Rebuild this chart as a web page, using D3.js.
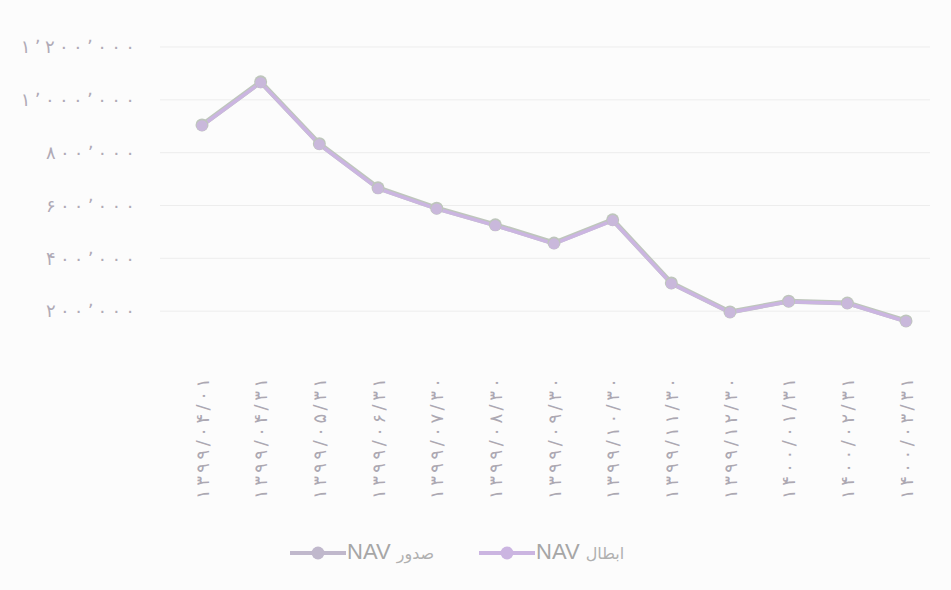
<!DOCTYPE html>
<html><head><meta charset="utf-8">
<script src="https://cdn.jsdelivr.net/npm/d3@7"></script>
<style>
html,body{margin:0;padding:0;background:#fcfcfc;}
svg{display:block;}
text{font-family:"DejaVu Sans","Noto Sans",sans-serif;}
</style></head>
<body>
<svg id="c" width="951" height="590"></svg>
<script>
const categories = ["۱۳۹۹/۰۴/۰۱","۱۳۹۹/۰۴/۳۱","۱۳۹۹/۰۵/۳۱","۱۳۹۹/۰۶/۳۱","۱۳۹۹/۰۷/۳۰","۱۳۹۹/۰۸/۳۰","۱۳۹۹/۰۹/۳۰","۱۳۹۹/۱۰/۳۰","۱۳۹۹/۱۱/۳۰","۱۳۹۹/۱۲/۳۰","۱۴۰۰/۰۱/۳۱","۱۴۰۰/۰۲/۳۱","۱۴۰۰/۰۳/۳۱"];
const navIssue      = [905000,1068000,834000,667000,590000,527000,458000,546000,307000,197000,238000,231000,163000];
const navRedemption = [902000,1065000,831000,664000,587000,524000,455000,543000,304000,195000,236000,229000,161000];
const yTicks = [200000,400000,600000,800000,1000000,1200000];
const yTickLabels = ["۲۰۰٬۰۰۰","۴۰۰٬۰۰۰","۶۰۰٬۰۰۰","۸۰۰٬۰۰۰","۱٬۰۰۰٬۰۰۰","۱٬۲۰۰٬۰۰۰"];
const seriesNames = ["صدور","ابطال"];
const seriesPrefix = "NAV";

const svg = d3.select("#c");
const x = d3.scalePoint().domain(categories).range([202,906]);
const y = d3.scaleLinear().domain([0,1200000]).range([364,47]);

// gridlines
svg.append("g").selectAll("line").data(yTicks).join("line")
  .attr("x1",160).attr("x2",930)
  .attr("y1",d=>y(d)).attr("y2",d=>y(d))
  .attr("stroke","#ededed").attr("stroke-width",1);

// y axis labels
const yAxis = d3.axisLeft(y).tickValues(yTicks).tickSize(0)
  .tickFormat((d,i)=>yTickLabels[i]);
const gy = svg.append("g").attr("transform","translate(138,0)").call(yAxis);
gy.select(".domain").remove();
gy.selectAll("text").attr("fill","#b0aab6").attr("font-size",18)
  .attr("textLength",(d,i)=>yTickLabels[i].length*12.7)
  .attr("lengthAdjust","spacing").attr("dx",0);

// x axis labels
const xAxis = d3.axisBottom(x).tickSize(0);
const gx = svg.append("g").attr("transform","translate(0,378)").call(xAxis);
gx.select(".domain").remove();
gx.selectAll("text").attr("fill","#aca8b2").attr("font-size",18)
  .attr("textLength",121).attr("lengthAdjust","spacing")
  .attr("transform","rotate(-90)").attr("text-anchor","end")
  .attr("x",0).attr("y",0).attr("dy","0.35em").attr("dx","0");

const colors = ["#bec6bc","#cbb5e1"];
const line = d3.line().x((d,i)=>x(categories[i])).y(d=>y(d));
[navIssue,navRedemption].forEach((s,k)=>{
  svg.append("path").datum(s).attr("d",line).attr("fill","none")
    .attr("stroke",colors[k]).attr("stroke-width",k===0?5:3.5)
    .attr("stroke-linejoin","round");
});
[navIssue,navRedemption].forEach((s,k)=>{
  svg.append("g").selectAll("circle").data(s).join("circle")
    .attr("cx",(d,i)=>x(categories[i])).attr("cy",d=>y(d))
    .attr("r",k===0?6.5:5.5).attr("fill",colors[k]).attr("opacity",k===0?1:0.85);
});

// legend
const legend = [{x:290,name:seriesNames[0],c:"#c0b8cc"},{x:479,name:seriesNames[1],c:"#cbb5e1"}];
const lg = svg.append("g");
legend.forEach(l=>{
  lg.append("line").attr("x1",l.x).attr("x2",l.x+56).attr("y1",553).attr("y2",553)
    .attr("stroke",l.c).attr("stroke-width",4);
  lg.append("circle").attr("cx",l.x+28).attr("cy",553).attr("r",6.5).attr("fill",l.c);
  const t = lg.append("text").attr("x",l.x+57).attr("y",553).attr("dy","0.36em")
    .attr("fill","#a6a6a6").attr("direction","ltr");
  t.append("tspan").attr("font-size",22)
    .attr("font-family","'Liberation Sans',sans-serif").text(seriesPrefix+" ");
  t.append("tspan").attr("font-size",16).attr("fill","#b0b0b0").text(l.name);
});
</script>
</body></html>
